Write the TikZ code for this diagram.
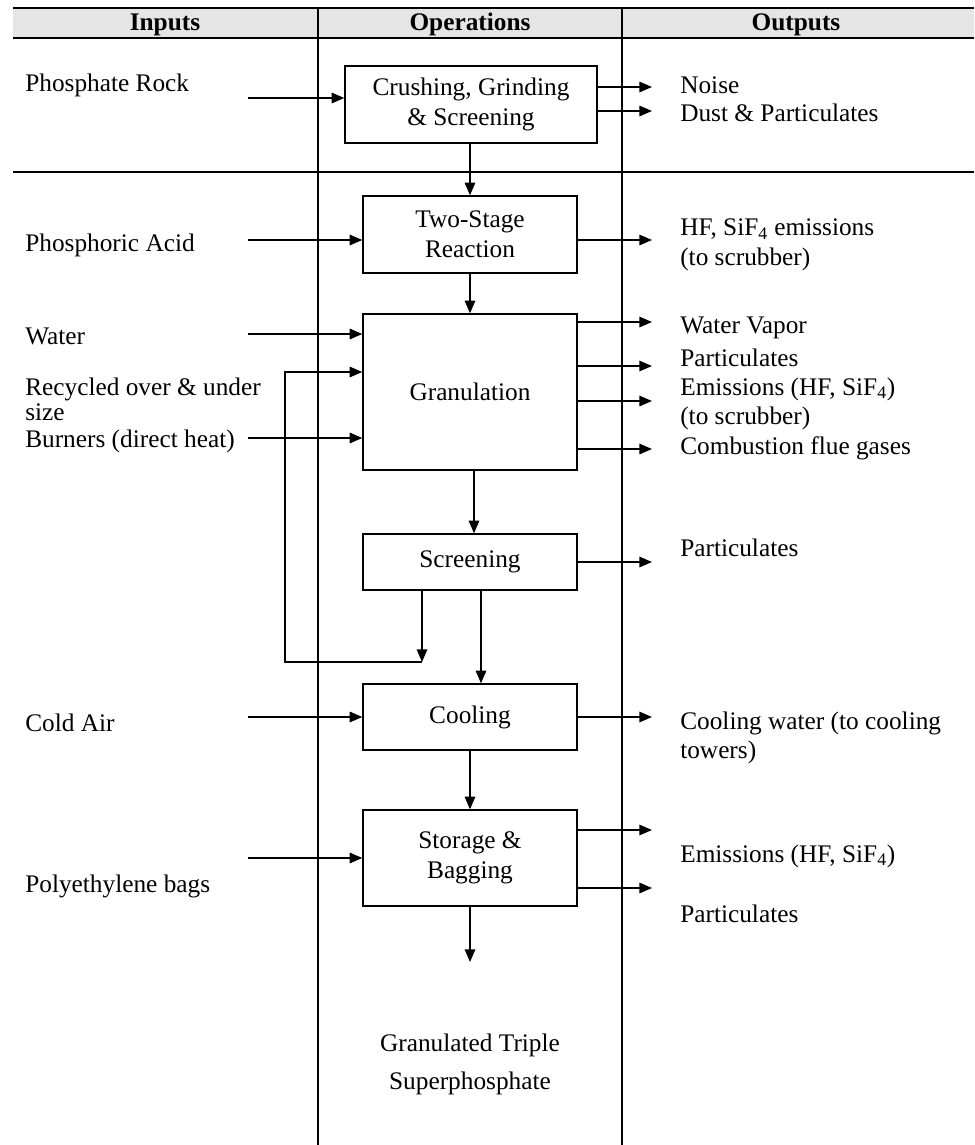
\documentclass[tikz,border=0pt]{standalone}
\usepackage{fontspec}
\setmainfont{Liberation Serif}
\usetikzlibrary{arrows.meta}
\tikzset{
  opbox/.style={draw=black, line width=1pt, inner sep=0pt, align=center},
  flow/.style={line width=1pt, -{Triangle[length=9pt,width=7.5pt]}},
  intext/.style={anchor=west, inner sep=0pt, align=left},
  outtext/.style={anchor=west, inner sep=0pt, align=left},
  headtext/.style={anchor=base, inner sep=0pt, font=\fontsize{18}{21}\selectfont\bfseries}
}
% box: name, centre x, centre y, width, height (pixels), text
\newcommand{\opbox}[6]{
\node[opbox, minimum width=#4*0.025cm, minimum height=#5*0.025cm] (#1) at (#2,#3){#6};
}

\begin{document}
\begin{tikzpicture}[x=0.025cm, y=-0.025cm, font=\fontsize{18}{21}\selectfont]
\useasboundingbox (0,0) rectangle (974,1145);

% table frame
\fill[gray!20] (13,8) rectangle (974,38);
\draw[line width=1.4pt] (13,8) -- (974,8);
\draw[line width=1.4pt] (13,38) -- (974,38);
\draw[line width=1.2pt] (13,172) -- (974,172);
\draw[line width=1pt] (318,8) -- (318,1145);
\draw[line width=1pt] (622,8) -- (622,1145);
\node[headtext] (hin) at (165,30){Inputs};
\node[headtext] (hop) at (470,30){Operations};
\node[headtext] (hout) at (796,30){Outputs};

% operations
\opbox{crush}{471}{104.5}{252}{77}{Crushing, Grinding\\\& Screening}
\opbox{react}{470}{234.5}{214}{77}{Two-Stage\\Reaction}
\opbox{gran}{470}{392}{214}{156}{Granulation}
\opbox{screen}{470}{562}{214}{56}{Screening}
\opbox{cool}{470}{717}{214}{66}{Cooling}
\opbox{store}{470}{858}{214}{96}{Storage \&\\Bagging}

\draw[flow] (crush.south -| react.north) -- (react.north);
\draw[flow] (react.south) -- (gran.north);
\draw[flow] (gran.south -| 474,0) -- (screen.north -| 474,0);
\draw[flow] (screen.south -| 481,0) -- (cool.north -| 481,0);
\draw[flow] (cool.south) -- (store.north);
\coordinate (prod) at (470,962);
\draw[flow] (store.south) -- (prod);
\node[inner sep=0pt, align=center, font=\fontsize{18}{27}\selectfont] (product) at (470,1064){Granulated Triple\\Superphosphate};

% recycle loop
\coordinate (loopdrop) at (422,662);
\coordinate (loopcorner) at (285,662);
\draw[flow] (screen.south -| loopdrop) -- (loopdrop);
\draw[flow] (loopdrop) -- (loopcorner) |- (gran.west |- 0,372);

% inputs
\node[intext] (rock) at (25,85){Phosphate Rock};
\node[intext] (acid) at (25,245){Phosphoric Acid};
\node[intext] (water) at (25,336){Water};
\node[intext, font=\fontsize{18}{18}\selectfont] (recyc) at (25,399){Recycled over \& under\\size};
\node[intext] (burn) at (25,441){Burners (direct heat)};
\node[intext] (air) at (25,723){Cold Air};
\node[intext] (bags) at (25,886){Polyethylene bags};

\coordinate (rockin) at (248,98);
\coordinate (acidin) at (248,240);
\coordinate (waterin) at (248,334);
\coordinate (burnin) at (248,438);
\coordinate (airin) at (248,717);
\coordinate (bagsin) at (248,858);
\draw[flow] (rockin) -- (crush.west |- rockin);
\draw[flow] (acidin) -- (react.west |- acidin);
\draw[flow] (waterin) -- (gran.west |- waterin);
\draw[flow] (burnin) -- (gran.west |- burnin);
\draw[flow] (airin) -- (cool.west |- airin);
\draw[flow] (bagsin) -- (store.west |- bagsin);

% outputs
\node[outtext] (noise) at (680,85){Noise};
\node[outtext] (dust) at (680,113){Dust \& Particulates};
\node[outtext] (hf) at (680,245){HF, SiF\textsubscript{4} emissions\\(to scrubber)};
\node[outtext] (vapor) at (680,328){Water Vapor};
\node[outtext] (part1) at (680,358){Particulates};
\node[outtext] (emis1) at (680,404){Emissions (HF, SiF\textsubscript{4})\\(to scrubber)};
\node[outtext] (flue) at (680,448){Combustion flue gases};
\node[outtext] (part2) at (680,548){Particulates};
\node[outtext] (cw) at (680,738){Cooling water (to cooling\\towers)};
\node[outtext] (emis2) at (680,856){Emissions (HF, SiF\textsubscript{4})};
\node[outtext] (part3) at (680,914){Particulates};

\coordinate (o1) at (652,87);
\coordinate (o2) at (652,111);
\coordinate (o3) at (652,240);
\coordinate (o4) at (652,322);
\coordinate (o5) at (652,366);
\coordinate (o6) at (652,401);
\coordinate (o7) at (652,449);
\coordinate (o8) at (652,562);
\coordinate (o9) at (652,717);
\coordinate (o10) at (652,830);
\coordinate (o11) at (652,888);
\draw[flow] (crush.east |- o1) -- (o1);
\draw[flow] (crush.east |- o2) -- (o2);
\draw[flow] (react.east |- o3) -- (o3);
\draw[flow] (gran.east |- o4) -- (o4);
\draw[flow] (gran.east |- o5) -- (o5);
\draw[flow] (gran.east |- o6) -- (o6);
\draw[flow] (gran.east |- o7) -- (o7);
\draw[flow] (screen.east |- o8) -- (o8);
\draw[flow] (cool.east |- o9) -- (o9);
\draw[flow] (store.east |- o10) -- (o10);
\draw[flow] (store.east |- o11) -- (o11);

\end{tikzpicture}
\end{document}
